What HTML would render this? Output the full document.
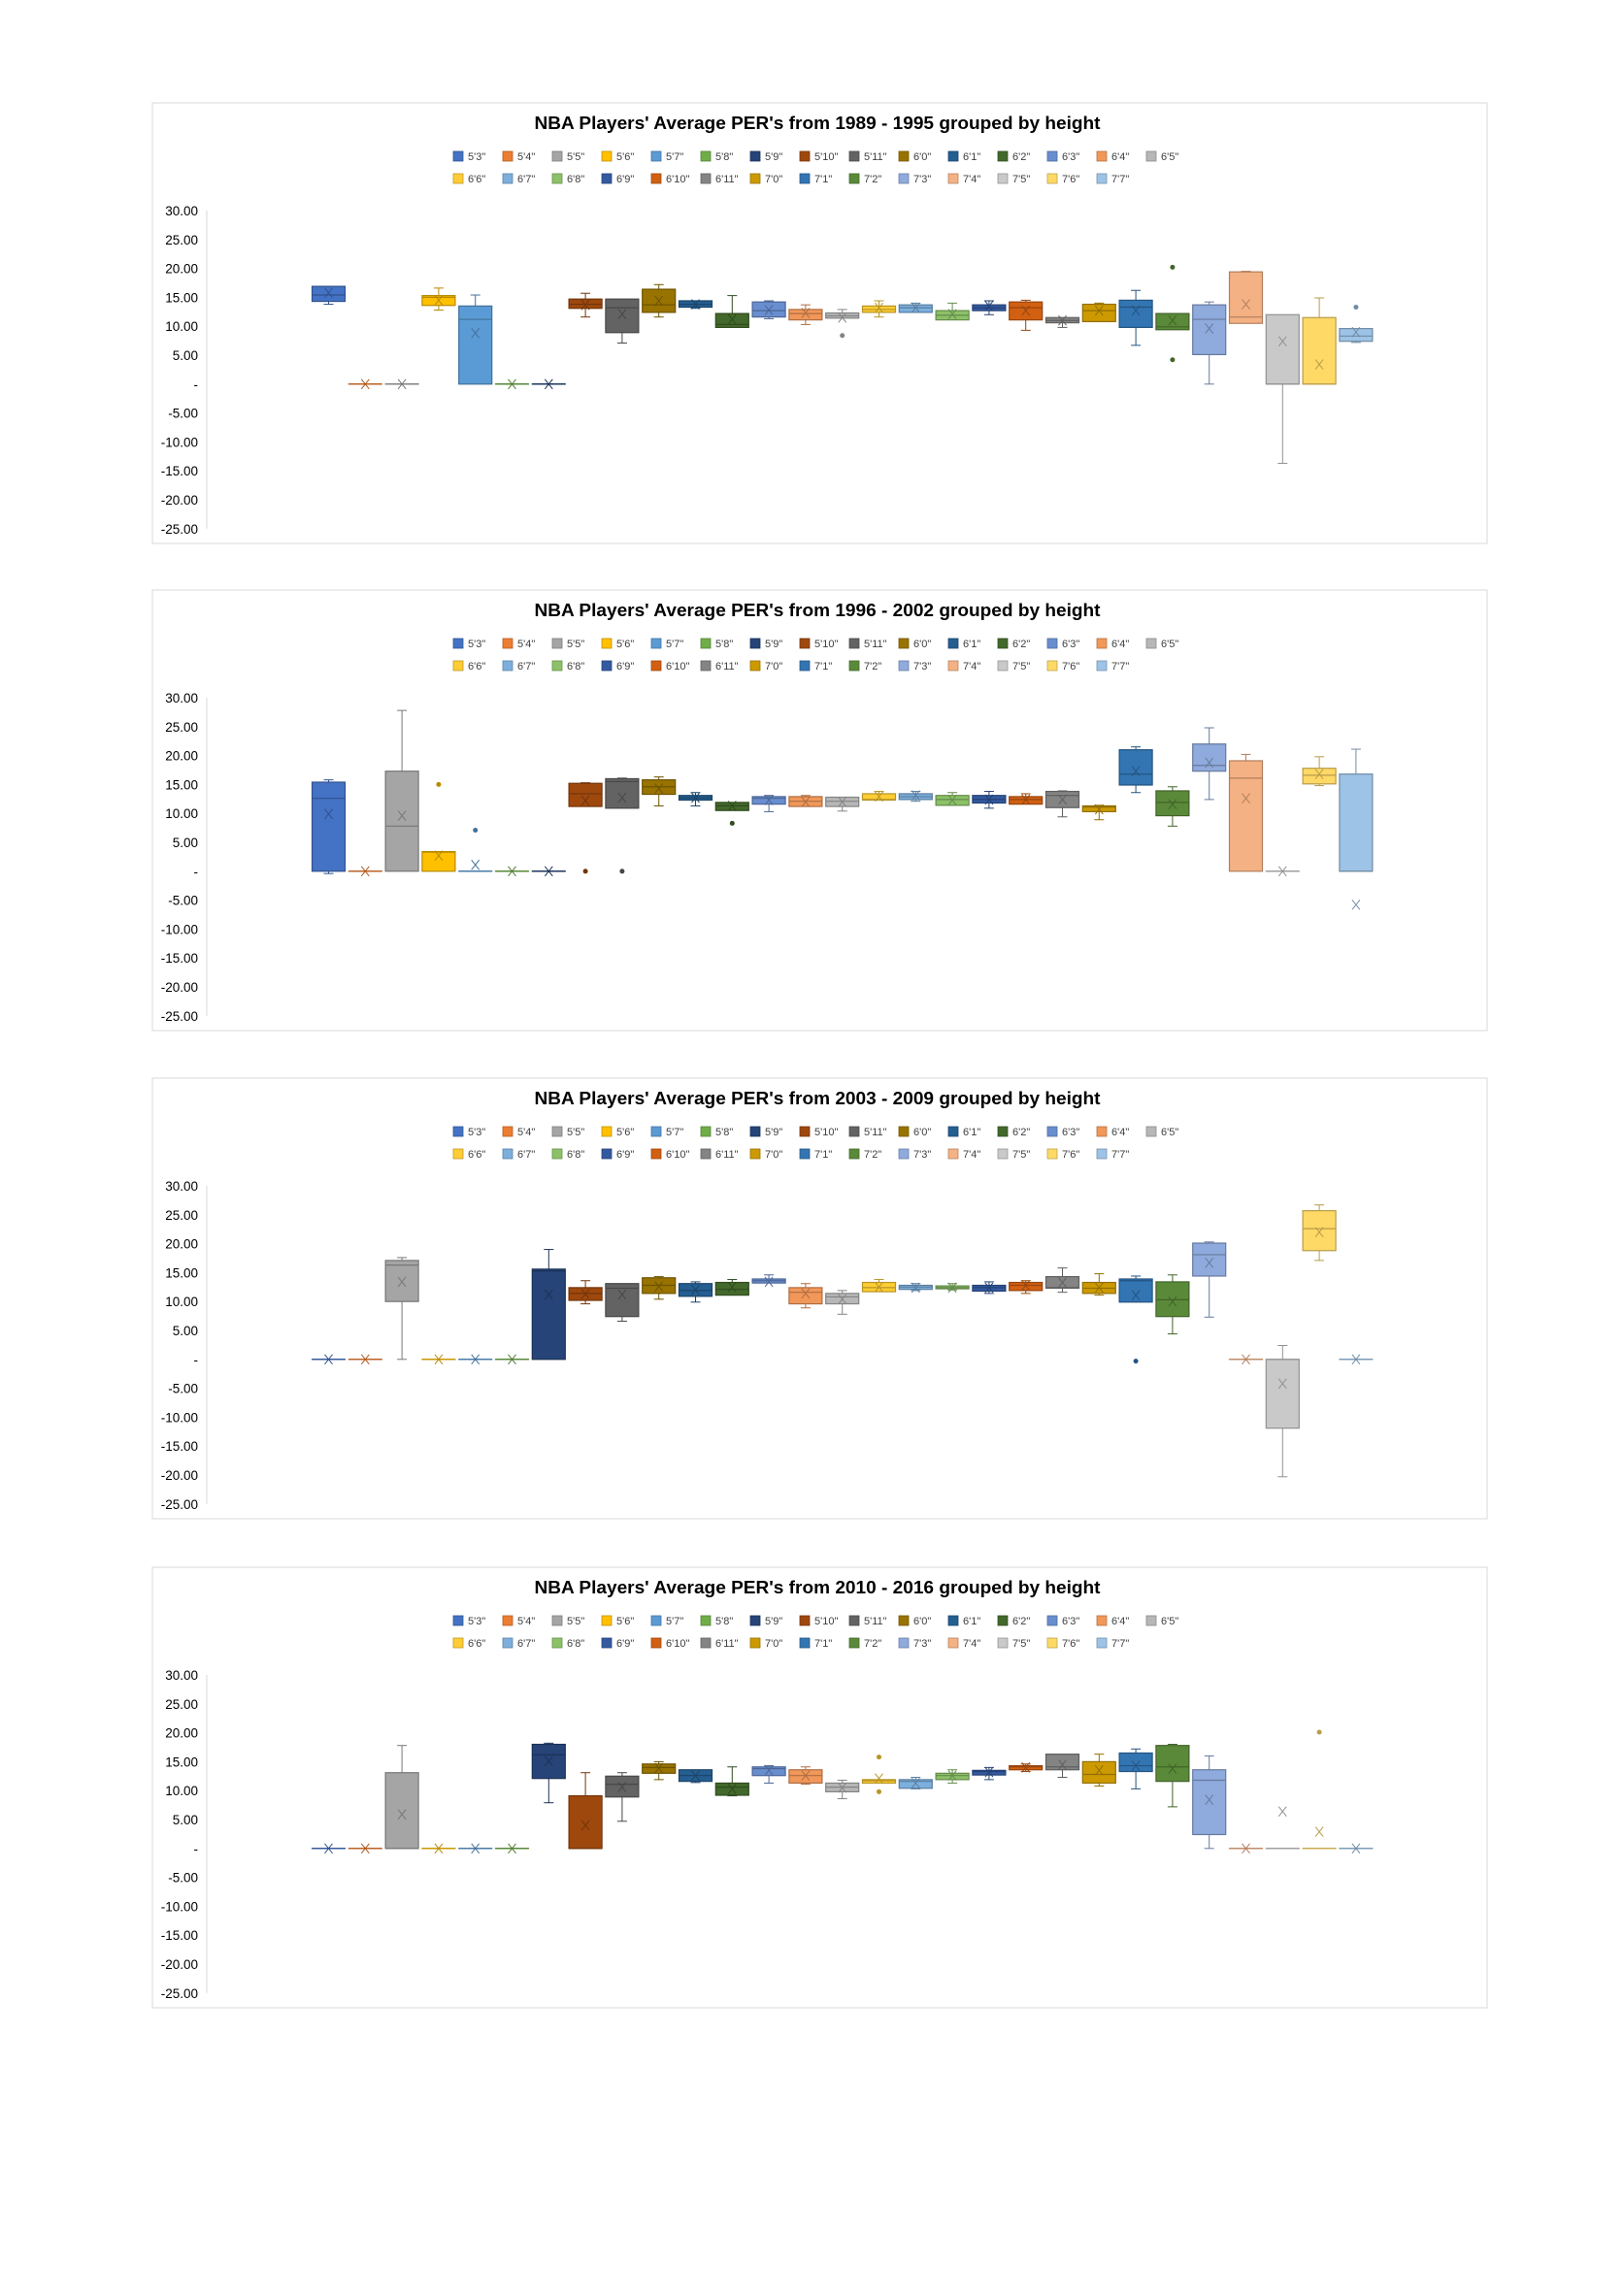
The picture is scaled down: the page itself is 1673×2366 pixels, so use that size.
<!DOCTYPE html>
<html><head><meta charset="utf-8"><title>NBA PER by height</title>
<style>
html,body{margin:0;padding:0;background:#fff;}
svg{display:block;font-family:"Liberation Sans",Arial,sans-serif;}
</style></head>
<body>
<svg id="root" width="1673" height="2366" viewBox="0 0 1673 2366" xmlns="http://www.w3.org/2000/svg"></svg>
<script>
const heights = ["5'3\"","5'4\"","5'5\"","5'6\"","5'7\"","5'8\"","5'9\"","5'10\"","5'11\"","6'0\"","6'1\"","6'2\"","6'3\"","6'4\"","6'5\"","6'6\"","6'7\"","6'8\"","6'9\"","6'10\"","6'11\"","7'0\"","7'1\"","7'2\"","7'3\"","7'4\"","7'5\"","7'6\"","7'7\""];
const periods = ["1989 - 1995","1996 - 2002","2003 - 2009","2010 - 2016"];
const yTicks = [30,25,20,15,10,5,0,-5,-10,-15,-20,-25];
const yTickLabels = ["30.00","25.00","20.00","15.00","10.00","5.00","-","-5.00","-10.00","-15.00","-20.00","-25.00"];

// Period 1: 1989-1995
const q1P1  = [14.3,0,0,13.6,0,0,0,13.1,8.9,12.4,13.3,9.8,11.6,11.1,11.4,12.4,12.4,11.1,12.7,11.1,10.6,10.8,9.8,9.4,5.1,10.5,0,0,7.4];
const medP1 = [15.4,0,0,15.0,11.2,0,0,13.8,13.2,13.7,13.8,10.3,12.7,12.2,11.8,12.9,13.2,11.9,13.2,13.2,11.0,12.7,13.3,9.9,11.2,11.6,0,0,8.3];
const q3P1  = [16.9,0,0,15.3,13.5,0,0,14.7,14.7,16.4,14.4,12.2,14.2,12.9,12.3,13.5,13.7,12.7,13.7,14.2,11.5,13.8,14.5,12.2,13.7,19.4,12.0,11.5,9.6];
const minP1 = [13.8,0,0,12.8,0,0,0,11.6,7.1,11.6,13.1,9.8,11.3,10.3,11.4,11.6,12.4,11.1,12.0,9.3,9.8,10.8,6.7,9.4,0,10.5,-13.7,0,7.2];
const maxP1 = [16.9,0,0,16.6,15.4,0,0,15.7,14.7,17.2,14.4,15.3,14.4,13.7,12.9,14.4,14.0,14.0,14.4,14.5,11.5,14.0,16.2,12.2,14.2,19.5,12.0,14.9,9.6];
const meanP1= [15.8,0,0,14.5,8.8,0,0,13.7,12.1,14.4,13.8,11.2,12.8,12.3,11.5,13.2,13.2,12.1,13.5,12.7,11.0,12.7,12.7,11.0,9.6,13.8,7.4,3.4,9.0];
const outP1 = [[],[],[],[],[],[],[],[],[],[],[],[],[],[],[8.4],[],[],[],[],[],[],[],[],[20.2,4.2],[],[],[],[],[13.3]];

// Period 2: 1996-2002
const q1P2  = [0,0,0,0,0,0,0,11.2,10.9,13.3,12.3,10.5,11.6,11.2,11.2,12.3,12.4,11.4,11.8,11.6,11.0,10.3,14.9,9.6,17.3,0,0,15.1,0];
const medP2 = [12.6,0,7.8,3.3,0,0,0,13.4,15.5,14.6,12.7,11.3,12.6,12.1,12.1,12.4,12.9,12.4,12.4,12.4,13.1,11.1,16.8,11.9,18.3,16.1,0,16.6,0];
const q3P2  = [15.4,0,17.3,3.4,0,0,0,15.2,16.0,15.8,13.1,11.9,12.9,12.9,12.8,13.4,13.4,13.1,13.1,12.9,13.8,11.3,21.0,13.9,22.0,19.1,0,17.8,16.8];
const minP2 = [-0.4,0,0,0,0,0,0,11.2,10.9,11.3,11.3,10.5,10.3,11.2,10.4,12.3,12.1,11.4,10.9,11.6,9.4,8.9,13.6,7.8,12.4,0,0,14.8,0];
const maxP2 = [15.8,0,27.8,3.4,0,0,0,15.3,16.1,16.3,13.6,11.9,13.1,13.1,12.8,13.8,13.8,13.6,13.8,13.4,13.9,11.4,21.5,14.6,24.8,20.2,0,19.8,21.1];
const meanP2= [9.9,0,9.6,2.7,1.1,0,0,12.2,12.7,14.3,12.7,11.3,12.3,12.0,12.0,12.9,13.1,12.3,12.4,12.4,12.4,10.7,17.3,11.6,18.8,12.6,0,16.8,-5.8];
const outP2 = [[],[],[],[15.0],[7.1],[],[],[0],[0],[],[],[8.3],[],[],[],[],[],[],[],[],[],[],[],[],[],[],[],[],[]];

// Period 3: 2003-2009
const q1P3  = [0,0,10.0,0,0,0,0,10.2,7.4,11.4,10.9,11.1,13.2,9.6,9.6,11.7,12.1,12.2,11.8,11.9,12.3,11.4,9.9,7.4,14.4,0,-11.9,18.8,0];
const medP3 = [0,0,16.3,0,0,0,15.3,11.4,12.3,12.8,11.9,12.1,13.6,11.6,10.8,12.4,12.5,12.4,12.4,12.8,12.4,12.3,13.6,10.3,18.1,0,0,22.6,0];
const q3P3  = [0,0,17.1,0,0,0,15.6,12.4,13.1,14.1,13.1,13.3,13.9,12.4,11.4,13.3,12.8,12.7,12.8,13.3,14.3,13.3,13.9,13.4,20.1,0,0,25.7,0];
const minP3 = [0,0,0,0,0,0,0,9.6,6.6,10.4,9.9,11.1,13.2,8.9,7.8,11.7,11.9,12.0,11.4,11.4,11.6,11.1,9.9,4.4,7.3,0,-20.3,17.1,0];
const maxP3 = [0,0,17.6,0,0,0,19.0,13.6,13.1,14.3,13.4,13.8,14.6,13.1,11.9,13.8,13.1,13.1,13.4,13.6,15.8,14.8,14.4,14.6,20.3,0,2.4,26.7,0];
const meanP3= [0,0,13.4,0,0,0,11.2,11.3,11.2,12.6,12.0,12.5,13.4,11.4,10.4,12.5,12.4,12.4,12.4,12.8,13.3,12.4,11.1,10.0,16.7,0,-4.2,22.0,0];
const outP3 = [[],[],[],[],[],[],[],[],[],[],[],[],[],[],[],[],[],[],[],[],[],[],[-0.3],[],[],[],[],[],[]];

// Period 4: 2010-2016
const q1P4  = [0,0,0,0,0,0,12.1,0,8.9,13.0,11.6,9.2,12.6,11.3,9.8,11.3,10.4,11.9,12.7,13.6,13.6,11.3,13.3,11.6,2.4,0,0,0,0];
const medP4 = [0,0,0,0,0,0,16.2,0,11.1,14.0,12.6,10.6,13.8,12.6,10.6,11.7,11.6,12.6,13.3,14.1,14.1,12.8,14.3,14.1,11.8,0,0,0,0];
const q3P4  = [0,0,13.1,0,0,0,18.0,9.1,12.5,14.6,13.6,11.3,14.1,13.6,11.3,11.9,11.9,13.0,13.5,14.3,16.3,15.0,16.5,17.8,13.6,0,0,0,0];
const minP4 = [0,0,0,0,0,0,7.9,0,4.7,11.9,11.4,9.1,11.3,11.1,8.6,11.3,10.3,11.3,11.9,13.3,12.3,10.8,10.3,7.2,0,0,0,0,0];
const maxP4 = [0,0,17.8,0,0,0,18.2,13.1,13.1,15.0,13.6,14.1,14.3,14.1,11.8,11.9,12.3,13.6,14.0,14.6,16.3,16.3,17.2,18.0,16.0,0,0,0,0];
const meanP4= [0,0,5.9,0,0,0,15.1,4.0,10.6,13.9,12.6,10.3,13.5,12.6,10.5,12.1,11.3,12.6,13.2,14.0,14.5,13.5,14.3,13.8,8.4,0,6.4,2.9,0];
const outP4 = [[],[],[],[],[],[],[],[],[],[],[],[],[],[],[],[15.8,9.8],[],[],[],[],[],[],[],[],[],[],[],[20.1],[]];

const colors = ["#4472C4","#ED7D31","#A5A5A5","#FFC000","#5B9BD5","#70AD47","#264478","#9E480E","#636363","#997300","#255E91","#43682B","#698ED0","#F1975A","#B7B7B7","#FFCD33","#7CAFDD","#8CC168","#335AA1","#D26012","#848484","#CC9A00","#3275B2","#5A8A39","#8FAADC","#F4B183","#C9C9C9","#FFD966","#9DC3E6"];

const allData = [
  [q1P1,medP1,q3P1,minP1,maxP1,meanP1,outP1],
  [q1P2,medP2,q3P2,minP2,maxP2,meanP2,outP2],
  [q1P3,medP3,q3P3,minP3,maxP3,meanP3,outP3],
  [q1P4,medP4,q3P4,minP4,maxP4,meanP4,outP4]
];

const NS = "http://www.w3.org/2000/svg";
const root = document.getElementById("root");
function mk(tag, attrs, parent){ const e=document.createElementNS(NS,tag); for(const k in attrs) e.setAttribute(k,attrs[k]); (parent||root).appendChild(e); return e; }
function darken(hex,f){ const n=parseInt(hex.slice(1),16); const r=Math.round(((n>>16)&255)*f),g=Math.round(((n>>8)&255)*f),b=Math.round((n&255)*f); return "rgb("+r+","+g+","+b+")"; }

const y30s = [217,719,1222,1726];
const UNIT = 5.96;
const X0 = 338.5, DX = 37.8, BW = 34;
function xPos(i){ return X0 + i*DX; }

periods.forEach((p, k) => {
  const y30 = y30s[k];
  const yPos = v => y30 + (30 - v)*UNIT;
  const g = mk("g", {});
  
  
  const frame = mk("rect", {x:157, y:y30-111, width:1375, height:454, fill:"#fff", stroke:"#d9d9d9", "stroke-width":1}, g);
  
  
  const title = mk("text", {x:842, y:y30-84, "text-anchor":"middle", "font-size":18, "font-weight":"bold", fill:"#000", textLength:583, lengthAdjust:"spacingAndGlyphs"}, g);
  title.textContent = "NBA Players' Average PER's from " + p + " grouped by height";
  
  

  heights.forEach((h, i) => {
    const row = i < 15 ? 0 : 1, col = i < 15 ? i : i - 15;
    const lx = 467 + col*51, ly = y30 - 61 + row*23;
    const lg = mk("g", {}, g);
    
    
    mk("rect", {x:lx, y:ly, width:10, height:10, fill:colors[i], stroke:darken(colors[i],0.75), "stroke-width":0.8}, lg);
    const t = mk("text", {x:lx+15, y:ly+9, "font-size":11, fill:"#404040"}, lg);
    t.textContent = h;
  });

  const ax = mk("line", {x1:213, y1:yPos(30), x2:213, y2:yPos(-25), stroke:"#d9d9d9", "stroke-width":1}, g);
  
  
  yTicks.forEach((v, j) => {
    const t = mk("text", {x:204, y:yPos(v)+5, "text-anchor":"end", "font-size":13.5, fill:"#000"}, g);
    t.textContent = yTickLabels[j];
    
    
  });

  const [q1,med,q3,mn,mx,mean,outs] = allData[k];
  heights.forEach((h, i) => {
    const c = colors[i], d = darken(c, 0.72);
    const cx = xPos(i);
    const bg = mk("g", {}, g);
    
    
    mk("line", {x1:cx, y1:yPos(mx[i]), x2:cx, y2:yPos(q3[i]), stroke:d, "stroke-width":1}, bg);
    mk("line", {x1:cx, y1:yPos(q1[i]), x2:cx, y2:yPos(mn[i]), stroke:d, "stroke-width":1}, bg);
    if (mx[i] > q3[i]) mk("line", {x1:cx-5, y1:yPos(mx[i]), x2:cx+5, y2:yPos(mx[i]), stroke:d, "stroke-width":1}, bg);
    if (mn[i] < q1[i]) mk("line", {x1:cx-5, y1:yPos(mn[i]), x2:cx+5, y2:yPos(mn[i]), stroke:d, "stroke-width":1}, bg);
    const yt = yPos(q3[i]), yb = yPos(q1[i]);
    mk("rect", {x:cx-BW/2, y:yt, width:BW, height:Math.max(0.01, yb-yt), fill:c, stroke:d, "stroke-width":1.2}, bg);
    if (yb - yt < 1) mk("line", {x1:cx-BW/2, y1:yt, x2:cx+BW/2, y2:yt, stroke:c, "stroke-width":1.5}, bg);
    mk("line", {x1:cx-BW/2, y1:yPos(med[i]), x2:cx+BW/2, y2:yPos(med[i]), stroke:d, "stroke-width":1.2}, bg);
    const my = yPos(mean[i]);
    mk("path", {d:"M"+(cx-4)+" "+(my-5)+"L"+(cx+4)+" "+(my+5)+"M"+(cx+4)+" "+(my-5)+"L"+(cx-4)+" "+(my+5), stroke:d, "stroke-width":1, fill:"none"}, bg);
    outs[i].forEach(o => {
      const oc = mk("circle", {cx:cx, cy:yPos(o), r:2.5, fill:d}, bg);
      
      
    });
  });
});
</script>
</body></html>
